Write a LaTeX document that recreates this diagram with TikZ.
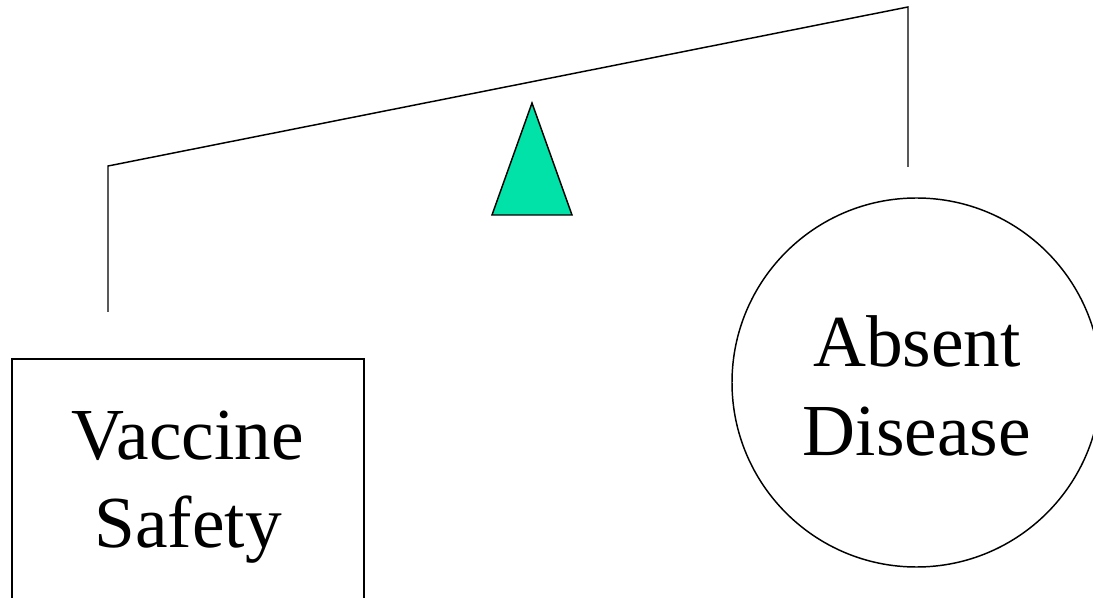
\documentclass[tikz,border=0pt]{standalone}
\usepackage{fontspec}
\setmainfont{Liberation Serif}
\definecolor{fulcrum}{RGB}{0,226,168}
\begin{document}
\begin{tikzpicture}[x=0.75pt,y=-0.75pt,
  line/.style={draw=black,line width=1.1pt},
  label/.style={font=\fontsize{55}{66}\selectfont,align=center,inner sep=0pt}]
\useasboundingbox (0,0) rectangle (1093,598);
\clip (0,0) rectangle (1093,598);
\coordinate (bl) at (108,166);
\coordinate (br) at (908,7);
\coordinate (hl) at (108,312);
\coordinate (hr) at (908,167);
\draw[line] (hl) -- (bl) -- (br) -- (hr);
\coordinate (apex) at (532,103);
\coordinate (basel) at (492,215);
\coordinate (baser) at (572,215);
\draw[line,fill=fulcrum,line join=miter] (apex) -- (baser) -- (basel) -- cycle;
\draw[line] (12,640) -- (12,359) -- (364,359) -- (364,640);
\node[line,circle,minimum size=369*0.75pt,inner sep=0pt] (disease) at (916.5,382.5) {};
\node[label,anchor=base] (safetyA) at (188,460) {Vaccine};
\node[label,anchor=base] (safetyB) at (188,547) {Safety};
\node[label,anchor=base] (diseaseA) at (917,367) {Absent};
\node[label,anchor=base] (diseaseB) at (917,456) {Disease};
\end{tikzpicture}
\end{document}
